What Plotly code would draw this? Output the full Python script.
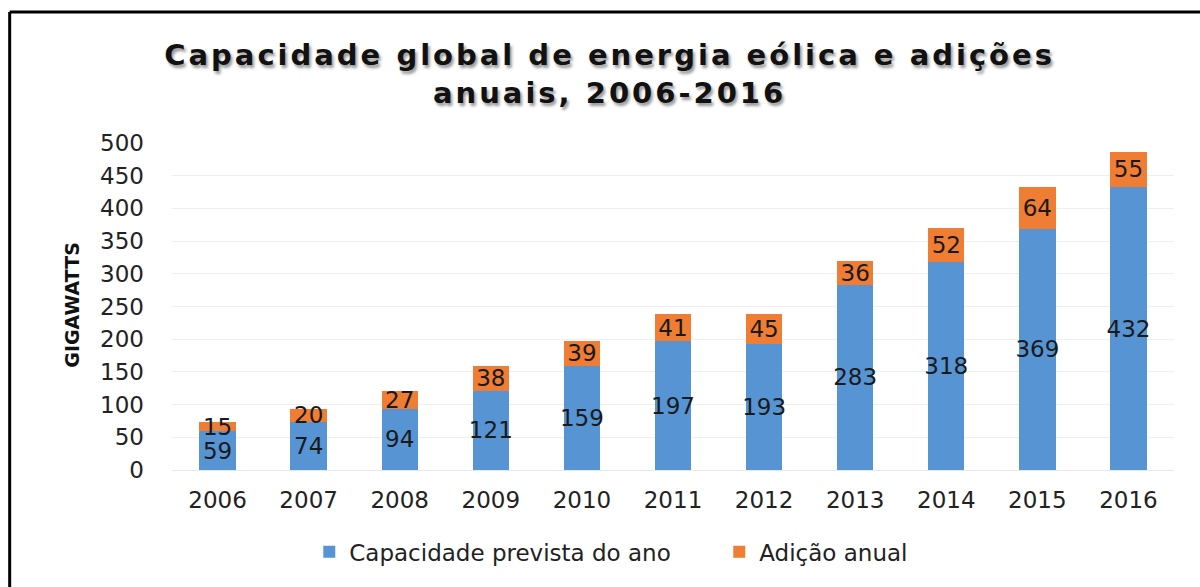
import plotly.graph_objects as go

years = ["2006", "2007", "2008", "2009", "2010", "2011", "2012", "2013", "2014", "2015", "2016"]
capacidade = [59, 74, 94, 121, 159, 197, 193, 283, 318, 369, 432]
adicao = [15, 20, 27, 38, 39, 41, 45, 36, 52, 64, 55]
y_ticks = [0, 50, 100, 150, 200, 250, 300, 350, 400, 450, 500]

FONT = "DejaVu Sans"
BLUE = "#5694D4"
ORANGE = "#EF7D33"
FS = 23

fig = go.Figure()
fig.add_trace(go.Bar(
    x=years, y=capacidade, name="Capacidade prevista do ano",
    marker=dict(color=BLUE, line=dict(width=0)),
    text=capacidade, textposition="inside", insidetextanchor="middle",
    constraintext="none", textangle=0,
    textfont=dict(family=FONT, size=FS, color="#1a1a1a"),
))
fig.add_trace(go.Bar(
    x=years, y=adicao, name="Adição anual",
    marker=dict(color=ORANGE, line=dict(width=0)),
    text=adicao, textposition="inside", insidetextanchor="middle",
    constraintext="none", textangle=0,
    textfont=dict(family=FONT, size=FS, color="#1a1a1a"),
))

fig.update_layout(
    barmode="stack",
    bargap=0.6,
    width=1200, height=587,
    margin=dict(l=172, r=26, t=143, b=117),
    paper_bgcolor="white", plot_bgcolor="white",
    font=dict(family=FONT, color="#222"),
    title=dict(
        text="Capacidade global de energia eólica e adições<br>anuais, 2006-2016",
        x=0.508, xref="container", xanchor="center",
        y=1 - 65 / 587, yref="container", yanchor="middle",
        font=dict(family=FONT, size=29, color="#111", weight="bold",
                  shadow="2px 3px 3px #999"),
    ),
    xaxis=dict(
        type="category", tickfont=dict(family=FONT, size=FS, color="#222"),
        showline=False, ticks="", showgrid=False, ticklabelstandoff=14,
    ),
    yaxis=dict(
        range=[0, 500], tickvals=y_ticks,
        tickfont=dict(family=FONT, size=FS, color="#222"),
        showgrid=True, gridcolor="#efefef", gridwidth=1,
        zeroline=True, zerolinecolor="#e8e8e8", zerolinewidth=1,
        ticks="", ticklabelstandoff=27,
    ),
    legend=dict(
        orientation="h", x=0.137, xanchor="left", y=-0.25, yanchor="middle",
        font=dict(family=FONT, size=FS, color="#222"),
        entrywidth=365, traceorder="normal",
    ),
    annotations=[dict(
        text="<b>GIGAWATTS</b>", textangle=-90, xref="paper", yref="paper",
        x=-0.1, y=0.505, showarrow=False, xanchor="center",
        font=dict(family=FONT, size=19, color="#111"),
    )],
    shapes=[
        dict(type="line", xref="paper", yref="paper", x0=-0.162, x1=1.03,
             y0=1.4006, y1=1.4006, line=dict(color="black", width=3)),
        dict(type="line", xref="paper", yref="paper", x0=-0.162, x1=-0.162,
             y0=1.4006, y1=-0.4, line=dict(color="black", width=3)),
    ],
)

post = ("document.body.style.margin='0';"
        "var g=document.getElementById('{plot_id}');"
        "var t=g?g.querySelector('.gtitle'):null;"
        "if(t){t.style.letterSpacing='3px';}")
fig.write_html("out.html", post_script=post, config={"displayModeBar": False})
